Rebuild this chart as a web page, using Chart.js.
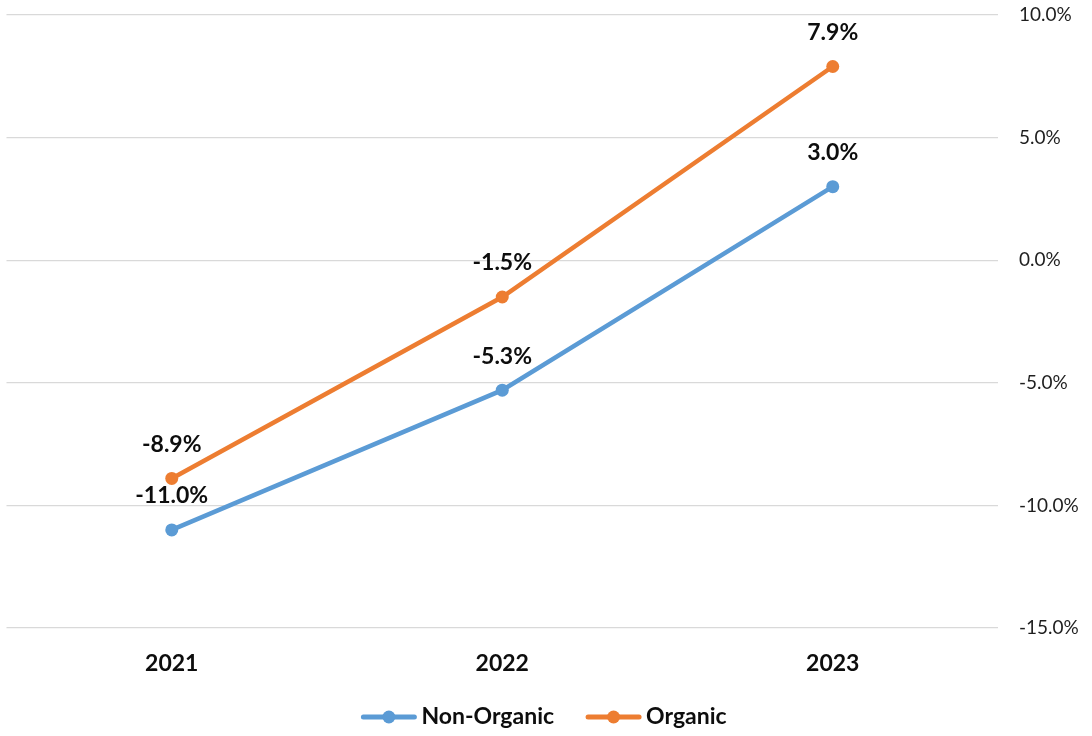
<!DOCTYPE html>
<html>
<head>
<meta charset="utf-8">
<script src="https://cdn.jsdelivr.net/npm/chart.js@4.4.1/dist/chart.umd.min.js"></script>
<style>
  html, body { margin: 0; padding: 0; background: #fff; }
  #wrap { width: 1092px; height: 736px; }
</style>
</head>
<body>
<div id="wrap"><canvas id="lineChart"></canvas></div>
<script>
const years = ['2021', '2022', '2023'];
const nonOrganic = [-11.0, -5.3, 3.0];
const organic = [-8.9, -1.5, 7.9];
const yTicks = [-15, -10, -5, 0, 5, 10];

const BLUE = '#5B9BD5';
const ORANGE = '#ED7D31';
const FONT = 'Lato, "Open Sans", sans-serif';
const TEXT = '#0d0d0d';

// value labels above each point
const pointLabels = {
    id: 'pointLabels',
    afterDatasetsDraw(chart) {
        const ctx = chart.ctx;
        ctx.save();
        ctx.font = 'bold 23px ' + FONT;
        ctx.fillStyle = TEXT;
        ctx.textAlign = 'center';
        ctx.textBaseline = 'middle';
        chart.data.datasets.forEach((ds, i) => {
            chart.getDatasetMeta(i).data.forEach((pt, j) => {
                ctx.fillText(ds.data[j].toFixed(1) + '%', pt.x, pt.y - 34);
            });
        });
        ctx.restore();
    }
};

// legend at the bottom: line with a dot, then the series name
const lineLegend = {
    id: 'lineLegend',
    afterDraw(chart) {
        const ctx = chart.ctx;
        const lineW = 55, gap = 5, itemGap = 32, y = 717;
        ctx.save();
        ctx.font = 'bold 23px ' + FONT;
        ctx.textBaseline = 'middle';
        const items = chart.data.datasets.map(ds => ({
            ds, w: lineW + gap + ctx.measureText(ds.label).width
        }));
        const total = items.reduce((s, it) => s + it.w, 0) + itemGap * (items.length - 1);
        let x = 544 - total / 2;
        items.forEach(({ ds, w }) => {
            ctx.strokeStyle = ds.borderColor;
            ctx.lineWidth = 5;
            ctx.lineCap = 'round';
            ctx.beginPath();
            ctx.moveTo(x + 2, y);
            ctx.lineTo(x + lineW - 2, y);
            ctx.stroke();
            ctx.fillStyle = ds.borderColor;
            ctx.beginPath();
            ctx.arc(x + lineW / 2, y, 6.5, 0, Math.PI * 2);
            ctx.fill();
            ctx.fillStyle = TEXT;
            ctx.textAlign = 'left';
            ctx.fillText(ds.label, x + lineW + gap, y);
            x += w + itemGap;
        });
        ctx.restore();
    }
};

window.myLineChartInstance = new Chart(document.getElementById('lineChart'), {
    type: 'line',
    data: {
        labels: years,
        datasets: [{
            label: 'Non-Organic',
            data: nonOrganic,
            borderColor: BLUE,
            backgroundColor: BLUE,
            borderWidth: 4.5,
            pointRadius: 6.5,
            pointHoverRadius: 6.5,
            pointBorderWidth: 0,
            tension: 0
        }, {
            label: 'Organic',
            data: organic,
            borderColor: ORANGE,
            backgroundColor: ORANGE,
            borderWidth: 4.5,
            pointRadius: 6.5,
            pointHoverRadius: 6.5,
            pointBorderWidth: 0,
            tension: 0
        }]
    },
    options: {
        responsive: true,
        maintainAspectRatio: false,
        animation: false,
        clip: false,
        layout: { padding: { top: 15, left: 6, right: 0, bottom: 48 } },
        plugins: {
            tooltip: { enabled: false },
            legend: { display: false }
        },
        scales: {
            x: {
                offset: true,
                grid: { display: false },
                border: { display: false },
                ticks: {
                    color: TEXT,
                    padding: 14,
                    font: { family: FONT, size: 23, weight: 'bold' }
                },
                afterFit(scale) {
                    scale.height = 60;
                    scale.paddingLeft = 0;
                    scale.paddingRight = 0;
                }
            },
            y: {
                position: 'right',
                min: -15,
                max: 10,
                afterBuildTicks(scale) {
                    scale.ticks = yTicks.map(v => ({ value: v }));
                },
                grid: { color: '#d9d9d9', lineWidth: 1.3, drawTicks: false },
                border: { display: false },
                ticks: {
                    color: '#1f1f1f',
                    padding: 21,
                    font: { family: FONT, size: 19 },
                    callback: v => v.toFixed(1) + '%'
                },
                afterFit(scale) {
                    scale.width = 94;
                    scale.paddingTop = 0;
                    scale.paddingBottom = 0;
                }
            }
        }
    },
    plugins: [pointLabels, lineLegend]
});
</script>
</body>
</html>
